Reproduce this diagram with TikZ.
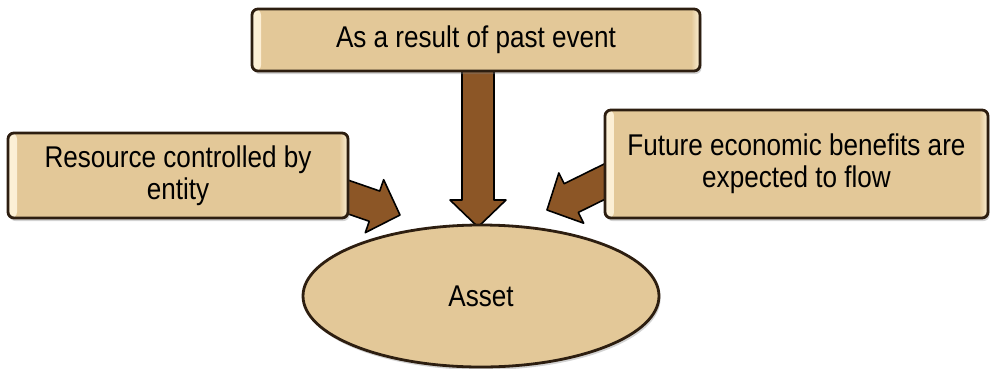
\documentclass[tikz,border=0pt]{standalone}
\usepackage{fontspec}
\setmainfont{Liberation Sans}[FakeStretch=0.87]
\usetikzlibrary{shapes.geometric, shadows, calc, backgrounds}

\definecolor{boxfill}{RGB}{227,200,152}
\definecolor{boxline}{RGB}{45,30,16}
\definecolor{bevel}{RGB}{252,240,214}
\definecolor{arrowbrown}{RGB}{140,86,38}

\tikzset{
	box/.style={draw=boxline, line width=2.8pt, fill=boxfill, rounded corners=6pt, align=center,
		font=\fontsize{30}{32}\selectfont,
		drop shadow={opacity=0.35, shadow xshift=1.5pt, shadow yshift=-3pt},
		path picture={
			\fill[left color=bevel, right color=boxfill] (path picture bounding box.south west) rectangle ([xshift=9pt]path picture bounding box.north west);
			\fill[left color=boxfill, right color=bevel] ([xshift=-9pt]path picture bounding box.south east) rectangle (path picture bounding box.north east);
		}},
	oval/.style={ellipse, draw=boxline, line width=2.8pt, fill=boxfill, inner sep=0pt,
		font=\fontsize{30}{32}\selectfont,
		drop shadow={opacity=0.35, shadow xshift=1.5pt, shadow yshift=-3pt}},
	bigarrow/.style={draw=black, line width=1.6pt, fill=arrowbrown, line join=round,
		to path={
			($(\tikztostart)!16pt!90:(\tikztotarget)$)
			-- ($(\tikztotarget)!27pt!(\tikztostart)!16pt!90:(\tikztotarget)$)
			-- ($(\tikztotarget)!27pt!(\tikztostart)!28pt!90:(\tikztotarget)$)
			-- (\tikztotarget)
			-- ($(\tikztotarget)!27pt!(\tikztostart)!28pt!-90:(\tikztotarget)$)
			-- ($(\tikztotarget)!27pt!(\tikztostart)!16pt!-90:(\tikztotarget)$)
			-- ($(\tikztostart)!16pt!-90:(\tikztotarget)$) -- cycle}}
}

\begin{document}
\begin{tikzpicture}[x=1pt, y=-1pt]
	\useasboundingbox (0,0) rectangle (991,368);

	\node[box, minimum width=448pt, minimum height=62pt] (past) at (476,40) {As a result of past event};
	\node[box, minimum width=340pt, minimum height=85pt] (resource) at (178,175.5) {Resource controlled by\\entity};
	\node[box, minimum width=383pt, minimum height=108pt] (future) at (796.5,164) {Future economic benefits are\\expected to flow};
	\node[oval, minimum width=356pt, minimum height=142pt] (asset) at (481,296) {Asset};

	% arrow ends
	\coordinate (pastfrom) at (478,60);
	\coordinate (pastto) at (478,227);
	\coordinate (resfrom) at (336.5,193);
	\coordinate (resto) at (400,215);
	\coordinate (futfrom) at (618,175);
	\coordinate (futto) at (547,210);

	\begin{pgfonlayer}{background}
		\draw[bigarrow] (pastfrom) to (pastto);
		\draw[bigarrow] (resfrom) to (resto);
		\draw[bigarrow] (futfrom) to (futto);
	\end{pgfonlayer}
\end{tikzpicture}
\end{document}
